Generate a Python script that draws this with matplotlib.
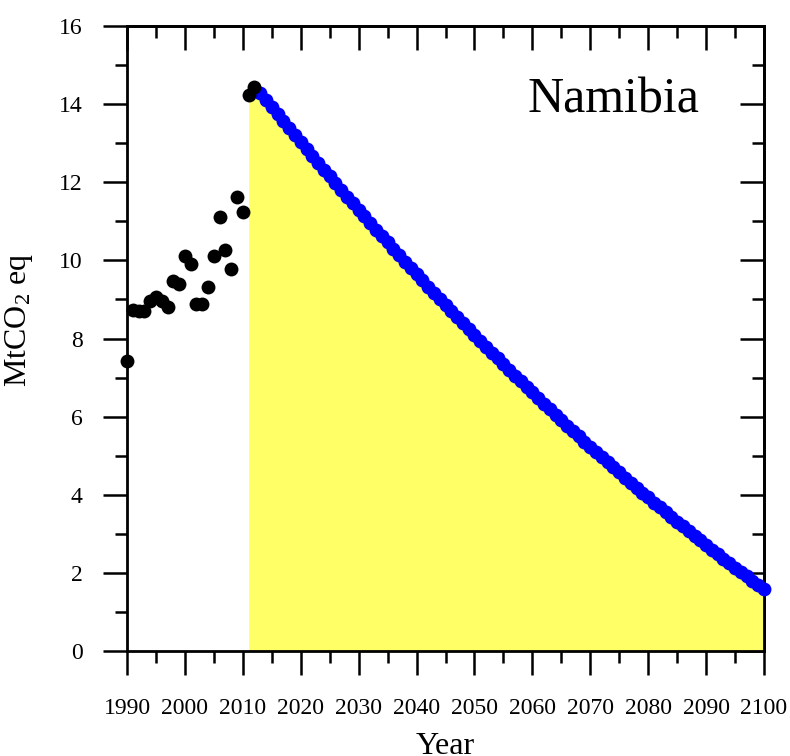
import matplotlib
matplotlib.use('Agg')
import matplotlib.pyplot as plt
from matplotlib.ticker import MultipleLocator

plt.rcParams['font.family'] = ['Liberation Serif', 'DejaVu Serif']
plt.rcParams['mathtext.default'] = 'regular'

# historical emissions (MtCO2 eq)
hist_years = list(range(1990, 2013))
hist_vals = [7.42, 8.73, 8.70, 8.70, 8.97, 9.07, 8.96, 8.80, 9.48, 9.40,
             10.12, 9.91, 8.88, 8.88, 9.33, 10.10, 11.12, 10.27, 9.77, 11.63,
             11.24, 14.23, 14.43]

# projected pathway 2013-2100
proj_years = list(range(2013, 2101))
proj_vals = [14.29, 14.11, 13.92, 13.74, 13.56, 13.38, 13.20, 13.03, 12.85, 12.67,
             12.50, 12.32, 12.15, 11.98, 11.81, 11.63, 11.46, 11.29, 11.13, 10.96,
             10.79, 10.63, 10.46, 10.30, 10.13, 9.97, 9.81, 9.65, 9.49, 9.33,
             9.17, 9.01, 8.86, 8.70, 8.55, 8.39, 8.24, 8.09, 7.94, 7.79,
             7.64, 7.49, 7.34, 7.19, 7.05, 6.90, 6.76, 6.62, 6.47, 6.33,
             6.19, 6.05, 5.91, 5.77, 5.63, 5.50, 5.36, 5.23, 5.09, 4.96,
             4.83, 4.70, 4.57, 4.44, 4.31, 4.18, 4.05, 3.93, 3.80, 3.68,
             3.55, 3.43, 3.31, 3.19, 3.07, 2.95, 2.83, 2.71, 2.59, 2.48,
             2.36, 2.25, 2.13, 2.02, 1.91, 1.80, 1.69, 1.58]

country = 'Namibia'

fig = plt.figure(figsize=(7.9, 7.56), dpi=100)
ax = fig.add_axes([127/790, 1-651/756, (764-127)/790, (651-26)/756])

# yellow area from 2011 onwards
fill_x = hist_years[-2:] + proj_years
fill_y = hist_vals[-2:] + proj_vals
ax.fill_between(fill_x, 0, fill_y, color='#ffff66', linewidth=0, zorder=1)

ax.plot(proj_years, proj_vals, 'o', color='#0000ff', markersize=10, markeredgewidth=0, zorder=3, clip_on=False)
ax.plot(hist_years, hist_vals, 'o', color='black', markersize=10, markeredgewidth=0, zorder=4, clip_on=False)

ax.set_xlim(1990, 2100)
ax.set_ylim(0, 16)
ax.xaxis.set_major_locator(MultipleLocator(10))
ax.xaxis.set_minor_locator(MultipleLocator(5))
ax.yaxis.set_major_locator(MultipleLocator(2))
ax.yaxis.set_minor_locator(MultipleLocator(1))

for s in ax.spines.values():
    s.set_linewidth(2)
ax.tick_params(which='major', direction='out', length=17, width=1.8, labelsize=17)
ax.tick_params(which='minor', direction='out', length=8.5, width=1.8)
ax.tick_params(axis='x', which='major', pad=17)
ax.tick_params(axis='y', which='major', pad=15)
ax.tick_params(top=False, right=False, which='both')

# top and right ticks point inwards
top = ax.secondary_xaxis('top')
top.xaxis.set_major_locator(MultipleLocator(10))
top.xaxis.set_minor_locator(MultipleLocator(5))
top.tick_params(which='major', direction='in', length=17, width=1.8, labeltop=False)
top.tick_params(which='minor', direction='in', length=8.5, width=1.8)
top.spines['top'].set_linewidth(2)
right = ax.secondary_yaxis('right')
right.yaxis.set_major_locator(MultipleLocator(2))
right.yaxis.set_minor_locator(MultipleLocator(1))
right.tick_params(which='major', direction='in', length=17, width=1.8, labelright=False)
right.tick_params(which='minor', direction='in', length=8.5, width=1.8)
right.spines['right'].set_linewidth(2)

ax.set_xlabel('Year', fontsize=23)
ax.xaxis.set_label_coords(0.5, -0.13)
ax.set_ylabel('MtCO$_2$ eq', fontsize=23)
ax.yaxis.set_label_coords(-0.145, 0.53)

ax.text(0.763, 0.861, country, transform=ax.transAxes, fontsize=36, ha='center', va='baseline')

fig.savefig('out.png', dpi=100)
